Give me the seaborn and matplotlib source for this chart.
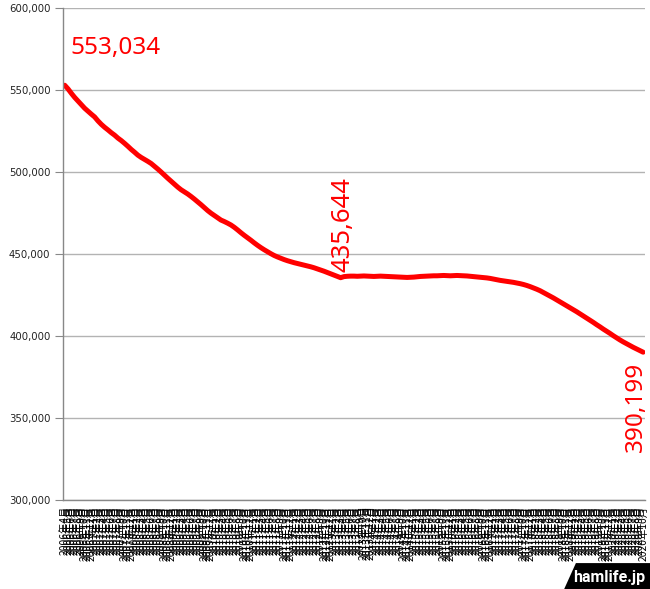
#!/usr/bin/env python3

import matplotlib
matplotlib.use('Agg')
import matplotlib.pyplot as plt
import matplotlib.patches as mpatches
import seaborn as sns
import pandas as pd

#monthly counts, fiscal years from 2006年4月 to 2020年10月
fy2006 = [553034, 550800, 548100, 545600, 543400, 541300, 539000, 537200, 535400, 533700, 531300, 529200]
fy2007 = [527400, 525800, 524100, 522600, 520800, 519300, 517600, 515800, 513900, 512200, 510400, 509000]
fy2008 = [507800, 506600, 505300, 503600, 501900, 500100, 498200, 496300, 494500, 492700, 490900, 489300]
fy2009 = [488000, 486700, 485200, 483600, 481900, 480200, 478400, 476600, 475000, 473600, 472200, 470800]
fy2010 = [469900, 468900, 467800, 466400, 464800, 463100, 461500, 460000, 458500, 456900, 455400, 454000]
fy2011 = [452700, 451500, 450300, 449200, 448300, 447500, 446700, 446000, 445400, 444800, 444300, 443800]
fy2012 = [443300, 442800, 442300, 441700, 441000, 440300, 439600, 438800, 438000, 437200, 436400, 435644]
fy2013 = [436300, 436500, 436600, 436600, 436500, 436600, 436700, 436600, 436500, 436400, 436500, 436600]
fy2014 = [436500, 436400, 436300, 436200, 436100, 436000, 435900, 435800, 435900, 436000, 436200, 436400]
fy2015 = [436500, 436600, 436700, 436800, 436800, 436900, 437000, 436900, 436800, 436900, 437000, 436900]
fy2016 = [436800, 436700, 436500, 436300, 436100, 435900, 435700, 435500, 435200, 434800, 434400, 434000]
fy2017 = [433700, 433400, 433100, 432800, 432400, 432000, 431500, 430900, 430200, 429400, 428600, 427700]
fy2018 = [426600, 425500, 424400, 423300, 422100, 420900, 419700, 418500, 417300, 416100, 414900, 413600]
fy2019 = [412300, 411000, 409700, 408400, 407000, 405700, 404300, 403000, 401700, 400300, 399000, 397700]
fy2020 = [396500, 395400, 394300, 393200, 392200, 391200, 390199]

counts = (fy2006 + fy2007 + fy2008 + fy2009 + fy2010 + fy2011 + fy2012 + fy2013
          + fy2014 + fy2015 + fy2016 + fy2017 + fy2018 + fy2019 + fy2020)

#month labels
month_labels = []
year, month = 2006, 4
for _ in counts:
    month_labels.append(f'{year}年{month}月')
    month += 1
    if month > 12:
        month = 1
        year += 1

yticks = [300000, 350000, 400000, 450000, 500000, 550000, 600000]

df = pd.DataFrame({'idx': range(len(counts)), 'count': counts})

sns.set_style('white')
plt.rcParams['font.family'] = ['DejaVu Sans', 'Noto Sans CJK JP']

fig = plt.figure(figsize=(6.5, 5.89), dpi=100)
ax = fig.add_axes([0.097, 0.151, 0.895, 0.835])

sns.lineplot(data=df, x='idx', y='count', color='#ff0000', linewidth=3.6, ax=ax)

ax.set_xlim(-0.5, len(counts) - 0.5)
ax.set_ylim(300000, 600000)
ax.set_yticks(yticks)
ax.set_yticklabels([f'{v:,}' for v in yticks], fontsize=7.3, color='#222222')
ax.yaxis.grid(True, color='#b3b3b3', linewidth=1)
ax.xaxis.grid(False)
ax.set_xlabel('')
ax.set_ylabel('')

ax.set_xticks(range(len(counts)))
ax.set_xticklabels(month_labels, rotation=90, fontsize=7.4, family=['Noto Sans CJK JP'], color='black')
ax.tick_params(axis='x', length=3, color='#888888', pad=1)
ax.tick_params(axis='y', length=6, color='#888888', pad=3, left=True)

for side in ['top', 'right']:
    ax.spines[side].set_visible(False)
for side in ['left', 'bottom']:
    ax.spines[side].set_color('#888888')
    ax.spines[side].set_linewidth(1)

#value annotations
first = 0
low = counts.index(min(counts[:100]))
last = len(counts) - 1
ax.annotate(f'{counts[first]:,}', xy=(first, counts[first]), xytext=(6, 25), textcoords='offset pixels',
            ha='left', va='bottom', color='#ff0000', fontsize=17.5, family=['Noto Sans'])
ax.annotate(f'{counts[low]:,}', xy=(low, counts[low]), xytext=(2, 6), textcoords='offset pixels',
            ha='center', va='bottom', rotation=90, color='#ff0000', fontsize=18.5, family=['Noto Sans'])
ax.annotate(f'{counts[last]:,}', xy=(last, counts[last]), xytext=(-7, -10), textcoords='offset pixels',
            ha='center', va='top', rotation=90, color='#ff0000', fontsize=17.5, family=['Noto Sans'])

#watermark
badge = mpatches.Polygon([(0.868, 0.0), (0.886, 0.044), (1.0, 0.044), (1.0, 0.0)],
                         closed=True, transform=fig.transFigure, facecolor='black', edgecolor='none')
fig.patches.append(badge)
fig.text(0.993, 0.019, 'hamlife.jp', ha='right', va='center', color='white',
         fontsize=11.5, fontweight='bold', family=['Roboto'])

plt.savefig('out.png', dpi=100)
